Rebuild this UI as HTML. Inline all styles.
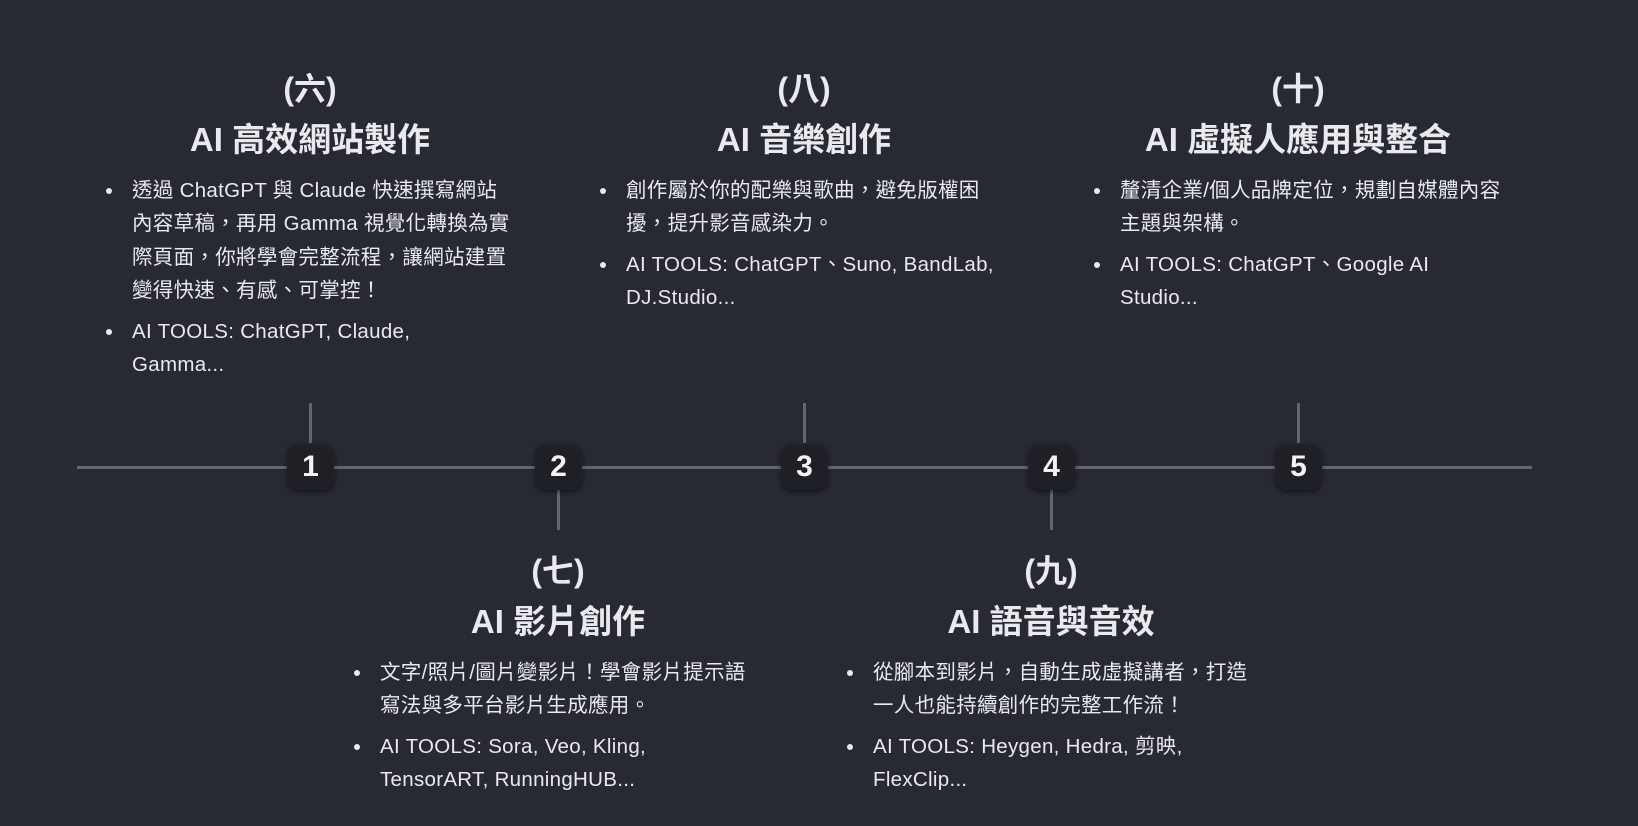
<!DOCTYPE html>
<html><head><meta charset="utf-8">
<style>
html,body{margin:0;padding:0}
body{width:1638px;height:826px;background:#282a33;position:relative;overflow:hidden;font-family:"Liberation Sans","Noto Sans CJK TC",sans-serif;color:#e9e9ee}
.line{position:absolute;left:77px;width:1455px;top:466px;height:3px;background:#64666d}
.stem{position:absolute;width:3px;height:40px;background:#64666d}
.node{position:absolute;width:47px;height:47px;top:443px;border-radius:11px;background:#1e2026;box-shadow:0 2px 5px rgba(0,0,0,.5), inset 0 1px 1px rgba(255,255,255,.06);color:#f2f2f5;font-weight:bold;font-size:30px;line-height:47px;text-align:center}
.col{position:absolute;width:500px}
.p{text-align:center;font-weight:bold;font-size:32px;line-height:40px;height:40px}
.t{text-align:center;font-weight:bold;font-size:33px;line-height:46px;height:46px;margin-top:8px}
ul{margin:11px 0 0 0;padding:0;list-style:none}
li{position:relative;margin-left:72px;font-size:20.5px;line-height:33.4px;margin-bottom:7px;white-space:nowrap;letter-spacing:0.3px}
li:before{content:"";position:absolute;left:-26px;top:14px;width:6px;height:6px;border-radius:50%;background:#e9e9ee}
</style></head><body>
<div class="line"></div>
<div class="stem" style="left:309px;top:403px"></div>
<div class="stem" style="left:803px;top:403px"></div>
<div class="stem" style="left:1297px;top:403px"></div>
<div class="stem" style="left:557px;top:490px"></div>
<div class="stem" style="left:1050px;top:490px"></div>
<div class="node" style="left:287px">1</div>
<div class="node" style="left:535px">2</div>
<div class="node" style="left:781px">3</div>
<div class="node" style="left:1028px">4</div>
<div class="node" style="left:1275px">5</div>

<div class="col" style="left:60px;top:69px">
<div class="p">(六)</div><div class="t">AI 高效網站製作</div>
<ul><li>透過 ChatGPT 與 Claude 快速撰寫網站<br>內容草稿，再用 Gamma 視覺化轉換為實<br>際頁面，你將學會完整流程，讓網站建置<br>變得快速、有感、可掌控！</li>
<li>AI TOOLS: ChatGPT, Claude,<br>Gamma...</li></ul></div>

<div class="col" style="left:554px;top:69px">
<div class="p">(八)</div><div class="t">AI 音樂創作</div>
<ul><li>創作屬於你的配樂與歌曲，避免版權困<br>擾，提升影音感染力。</li>
<li>AI TOOLS: ChatGPT、Suno, BandLab,<br>DJ.Studio...</li></ul></div>

<div class="col" style="left:1048px;top:69px">
<div class="p">(十)</div><div class="t">AI 虛擬人應用與整合</div>
<ul><li>釐清企業/個人品牌定位，規劃自媒體內容<br>主題與架構。</li>
<li>AI TOOLS: ChatGPT、Google AI<br>Studio...</li></ul></div>

<div class="col" style="left:308px;top:551px">
<div class="p">(七)</div><div class="t">AI 影片創作</div>
<ul><li>文字/照片/圖片變影片！學會影片提示語<br>寫法與多平台影片生成應用。</li>
<li>AI TOOLS: Sora, Veo, Kling,<br>TensorART, RunningHUB...</li></ul></div>

<div class="col" style="left:801px;top:551px">
<div class="p">(九)</div><div class="t">AI 語音與音效</div>
<ul><li>從腳本到影片，自動生成虛擬講者，打造<br>一人也能持續創作的完整工作流！</li>
<li>AI TOOLS: Heygen, Hedra, 剪映,<br>FlexClip...</li></ul></div>
</body></html>
